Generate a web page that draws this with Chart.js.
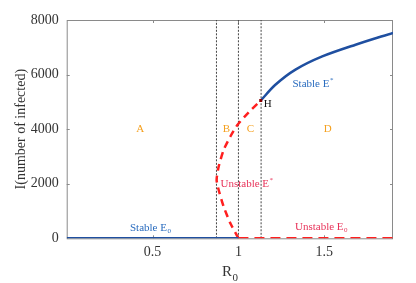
<!DOCTYPE html>
<html>
<head>
<meta charset="utf-8">
<script src="https://cdn.jsdelivr.net/npm/chart.js@4/dist/chart.umd.min.js"></script>
<style>
  html, body { margin: 0; padding: 0; background: #fff; }
  #wrap { width: 416px; height: 283px; }
</style>
</head>
<body>
<div id="wrap"><canvas id="myChart" width="416" height="283"></canvas></div>
<script>
// data
const r0StableE0 = [0, 1.0];
const iStableE0 = [0, 0];

const r0UnstableE0 = [1.0, 1.9];
const iUnstableE0 = [0, 0];

const r0UnstableEstar = [1.0, 0.953, 0.914, 0.885, 0.873, 0.885, 0.914, 0.953, 0.995, 1.06, 1.13];
const iUnstableEstar = [0, 550, 1160, 1770, 2140, 2630, 3240, 3730, 4160, 4620, 5050];

const r0StableEstar = [1.13, 1.215, 1.332, 1.488, 1.682, 1.9];
const iStableEstar = [5050, 5625, 6180, 6665, 7095, 7530];

const r0Boundaries = [0.872, 1.0, 1.132];

const xTicks = [0.5, 1, 1.5];
const yTicks = [0, 2000, 4000, 6000, 8000];

const regionNames = ['A', 'B', 'C', 'D'];
const regionR0 = [0.428, 0.93, 1.07, 1.52];

const toPoints = (xs, ys) => xs.map((x, i) => ({ x: x, y: ys[i] }));

const BLUE = '#1f4fa0';
const RED = '#ff1f1f';

const boundarySets = r0Boundaries.map((r) => ({
    data: [{ x: r, y: 0 }, { x: r, y: 8000 }],
    borderColor: '#444',
    borderWidth: 1,
    borderDash: [2, 1.5],
    pointRadius: 0,
    showLine: true,
    order: 5
}));

// setup
const data = {
    datasets: [
        {
            label: 'Stable E0',
            data: toPoints(r0StableE0, iStableE0),
            borderColor: BLUE,
            borderWidth: 2.5,
            pointRadius: 0,
            showLine: true,
            order: 1
        },
        {
            label: 'Unstable E0',
            data: toPoints(r0UnstableE0, iUnstableE0),
            borderColor: RED,
            borderWidth: 2.5,
            borderDash: [10, 6],
            pointRadius: 0,
            showLine: true,
            order: 2
        },
        {
            label: 'Unstable E*',
            data: toPoints(r0UnstableEstar, iUnstableEstar),
            borderColor: RED,
            borderWidth: 2.5,
            borderDash: [7, 5],
            pointRadius: 0,
            tension: 0.2,
            showLine: true,
            order: 2
        },
        {
            label: 'Stable E*',
            data: toPoints(r0StableEstar, iStableEstar),
            borderColor: BLUE,
            borderWidth: 2.5,
            pointRadius: 0,
            tension: 0.3,
            showLine: true,
            order: 1
        },
        ...boundarySets
    ]
};

const SERIF = '"Liberation Serif", "Times New Roman", serif';

// labels, frame, inward ticks
const decorations = {
    id: 'decorations',
    beforeDatasetsDraw(chart) {
        const { ctx, chartArea: a } = chart;
        const xs = chart.scales.x, ys = chart.scales.y;
        ctx.save();
        ctx.strokeStyle = '#8a8a8a';
        ctx.lineWidth = 1;
        ctx.strokeRect(a.left + 0.5, a.top + 0.5, a.right - a.left - 1, a.bottom - a.top);
        ctx.beginPath();
        xTicks.forEach((v) => {
            const px = Math.round(xs.getPixelForValue(v)) + 0.5;
            ctx.moveTo(px, a.bottom); ctx.lineTo(px, a.bottom - 3);
            ctx.moveTo(px, a.top); ctx.lineTo(px, a.top + 3);
        });
        yTicks.slice(1, -1).forEach((v) => {
            const py = Math.round(ys.getPixelForValue(v)) + 0.5;
            ctx.moveTo(a.left, py); ctx.lineTo(a.left + 3, py);
            ctx.moveTo(a.right, py); ctx.lineTo(a.right - 3, py);
        });
        ctx.stroke();
        ctx.restore();
    },
    afterDatasetsDraw(chart) {
        const { ctx } = chart;
        const xs = chart.scales.x, ys = chart.scales.y;
        const X = (v) => xs.getPixelForValue(v);
        const Y = (v) => ys.getPixelForValue(v);
        ctx.save();
        ctx.textBaseline = 'middle';

        // region letters
        ctx.font = '11px ' + SERIF;
        ctx.fillStyle = '#f5a01e';
        ctx.textAlign = 'center';
        regionNames.forEach((n, i) => ctx.fillText(n, X(regionR0[i]), Y(4000)));

        // H point
        ctx.fillStyle = '#8b0000';
        ctx.fillRect(X(1.13) - 1.5, Y(5050) - 1.5, 3, 3);
        ctx.fillStyle = '#111';
        ctx.textAlign = 'left';
        ctx.fillText('H', X(1.147), Y(4900));

        // curve names with sub/superscripts
        const label = (main, small, sub, x, y, color) => {
            ctx.fillStyle = color;
            ctx.font = '11px ' + SERIF;
            ctx.textAlign = 'left';
            ctx.fillText(main, x, y);
            const w = ctx.measureText(main).width;
            ctx.font = '7px ' + SERIF;
            ctx.fillText(small, x + w + 0.5, sub ? y + 3 : y - 4);
        };
        label('Stable E', '*', false, 292.5, 84, '#2a6cbf');
        label('Unstable E', '*', false, 220.5, 184, '#e8335a');
        label('Stable E', '0', true, 130, 228, '#2a6cbf');
        label('Unstable E', '0', true, 295, 227, '#e8335a');

        // x axis title R0
        ctx.fillStyle = '#333';
        ctx.font = '15px ' + SERIF;
        ctx.textAlign = 'left';
        ctx.fillText('R', 222, 272);
        const rw = ctx.measureText('R').width;
        ctx.font = '11px ' + SERIF;
        ctx.fillText('0', 222 + rw + 0.5, 278);
        ctx.restore();
    }
};

// config
const config = {
    type: 'scatter',
    data,
    options: {
        responsive: false,
        animation: false,
        layout: { padding: { top: 20, right: 23, left: 0, bottom: 0 } },
        plugins: {
            legend: { display: false },
            tooltip: { enabled: false }
        },
        scales: {
            x: {
                type: 'linear',
                min: 0,
                max: 1.9,
                afterBuildTicks: (s) => { s.ticks = xTicks.map((v) => ({ value: v })); },
                afterFit: (s) => { s.height = 44.7; },
                grid: { display: false, drawTicks: false },
                border: { display: false },
                ticks: {
                    padding: 6,
                    color: '#333',
                    font: { family: SERIF, size: 14 },
                    callback: (v) => String(v)
                }
            },
            y: {
                min: 0,
                max: 8000,
                afterBuildTicks: (s) => { s.ticks = yTicks.map((v) => ({ value: v })); },
                afterFit: (s) => { s.width = 66.7; },
                grid: { display: false, drawTicks: false },
                border: { display: false },
                title: {
                    display: true,
                    text: 'I(number of infected)',
                    color: '#333',
                    font: { family: SERIF, size: 14 },
                    padding: { top: 13, bottom: 0 }
                },
                ticks: {
                    padding: 8,
                    color: '#333',
                    font: { family: SERIF, size: 14 },
                    callback: (v) => String(v)
                }
            }
        }
    },
    plugins: [decorations]
};

// render init block
const myChart = new Chart(
    document.getElementById('myChart'),
    config
);
</script>
</body>
</html>
